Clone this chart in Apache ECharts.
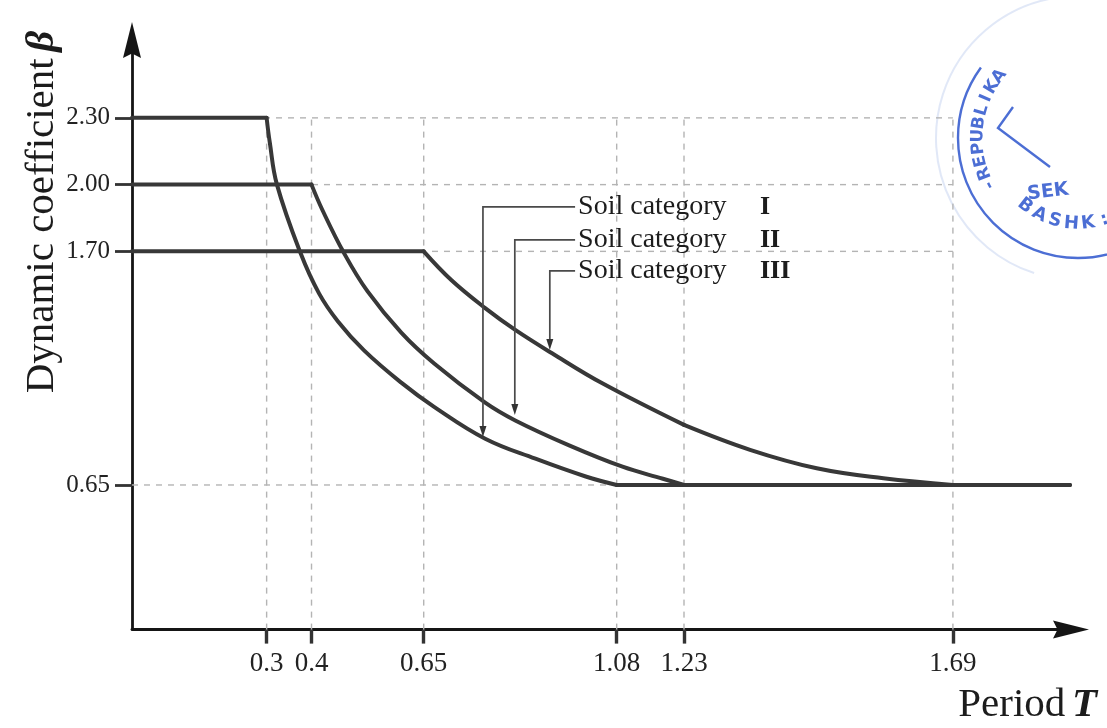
<!DOCTYPE html>
<html>
<head>
<meta charset="utf-8">
<script src="https://cdn.jsdelivr.net/npm/echarts@6.0.0/dist/echarts.min.js"></script>
<style>
html,body{margin:0;padding:0;background:#ffffff;}
#c{width:1107px;height:728px;}
</style>
</head>
<body>
<div id="c"></div>
<script>
// ---------------- data ----------------
const xTicks = [0.3, 0.4, 0.65, 1.08, 1.23, 1.69];
const xTickLabels = ['0.3', '0.4', '0.65', '1.08', '1.23', '1.69'];
const yTicks = [0.65, 1.70, 2.00, 2.30];
const yTickLabels = ['0.65', '1.70', '2.00', '2.30'];

const categories = ['Soil category', 'Soil category', 'Soil category'];
const numerals = ['I', 'II', 'III'];
const plateauLevel = [2.30, 2.00, 1.70];
const floorLevel = 0.65;
const lastPeriod = 1.89;

// decaying branch of each curve: [T, beta]
const decayI = [[0.30, 2.30], [0.307, 2.19], [0.323, 2.00], [0.376, 1.69], [0.417, 1.51],
  [0.459, 1.385], [0.517, 1.255], [0.60, 1.11], [0.674, 1.00], [0.787, 0.858], [0.899, 0.768],
  [1.011, 0.688], [1.08, 0.65]];
const decayII = [[0.40, 2.00], [0.424, 1.887], [0.473, 1.69], [0.525, 1.52], [0.60, 1.335],
  [0.674, 1.195], [0.787, 1.02], [0.854, 0.94], [0.974, 0.828], [1.093, 0.732], [1.183, 0.678], [1.23, 0.65]];
const decayIII = [[0.65, 1.70], [0.712, 1.57], [0.787, 1.445], [0.854, 1.347], [0.936, 1.242],
  [1.048, 1.107], [1.23, 0.92], [1.343, 0.808], [1.457, 0.725], [1.571, 0.68], [1.69, 0.65]];

// annotation anchors (data coordinates)
const labelPeriod = 0.994;
const labelLevel = [1.900, 1.752, 1.612];
const numeralPeriod = 1.36;
const arrowPeriod = [0.782, 0.853, 0.931];
const arrowLevel = [0.866, 0.965, 1.257];

// ---------------- layout ----------------
// the printed period axis is drawn at two different scales: left of 1.23 and right of it
const scaleBreak = 1.23;
const rightAxisMax = 1.892;
const betaMax = 2.65;

const chart = echarts.init(document.getElementById('c'), null, {renderer: 'canvas'});
const decays = [decayI, decayII, decayIII];
const curveColor = '#383838';
const gridColor = '#b4b4b4';
const serif = '"Liberation Serif", "DejaVu Serif", serif';
const gridRight = Math.max.apply(null, xTicks);
const gridTop = Math.max.apply(null, yTicks);

function lookup(ticks, labels, v) {
  let best = 0;
  ticks.forEach((t, i) => { if (Math.abs(t - v) < Math.abs(ticks[best] - v)) best = i; });
  return labels[best];
}

const series = [];
// put a polyline on the left and/or right period scale
function addLine(points, opts) {
  const b = scaleBreak;
  let left = points.filter(p => p[0] <= b);
  let right = points.filter(p => p[0] >= b);
  const hasB = points.some(p => p[0] === b);
  if (left.length && right.length && !hasB) {
    const p0 = left[left.length - 1], p1 = right[0];
    const bridge = [b, p0[1] + (p1[1] - p0[1]) * (b - p0[0]) / (p1[0] - p0[0])];
    left = left.concat([bridge]);
    right = [bridge].concat(right);
  }
  if (left.length >= 2) series.push(Object.assign({}, opts, {xAxisIndex: 0, yAxisIndex: 0, data: left}));
  if (right.length >= 2 && right.some(p => p[0] > b))
    series.push(Object.assign({}, opts, {xAxisIndex: 1, yAxisIndex: 1, data: right}));
}

const dashed = {type: 'line', symbol: 'none', silent: true, z: 1,
  lineStyle: {color: gridColor, width: 1.4, type: [6, 6]}};
yTicks.forEach(y => addLine([[0, y], [gridRight, y]], dashed));
xTicks.forEach(x => addLine([[x, 0], [x, gridTop]], dashed));

const solid = {color: curveColor, width: 4, cap: 'round', join: 'round'};
decays.forEach((d, k) => {
  const nm = categories[k] + ' ' + numerals[k];
  addLine([[0, plateauLevel[k]], d[0]], {type: 'line', name: nm, symbol: 'none', z: 3, lineStyle: solid});
  addLine(d, {type: 'line', name: nm, symbol: 'none', z: 3, smooth: 0.4, lineStyle: solid});
  addLine([d[d.length - 1], [lastPeriod, floorLevel]], {type: 'line', name: nm, symbol: 'none', z: 3, lineStyle: solid});
});

const leftTicks = xTicks.filter(t => t <= scaleBreak);
const rightTicks = xTicks.filter(t => t > scaleBreak);
const axisLineStyle = {color: '#151515', width: 2.8};
const arrowPath = 'path://M0,0 L10,40 L0,35 L-10,40 Z';
const xLabel = {margin: 21, fontSize: 27, fontFamily: serif, color: '#222',
  formatter: v => lookup(xTicks, xTickLabels, v)};
const xTick = {show: true, length: 14, inside: false, lineStyle: {color: '#333', width: 3.4}};

chart.setOption({
  animation: false,
  backgroundColor: '#ffffff',
  grid: [
    {left: 132, top: 40, width: 552, height: 589.6, outerBoundsMode: 'none'},
    {left: 684, top: 40, width: 387, height: 589.6, outerBoundsMode: 'none'}
  ],
  xAxis: [
    {gridIndex: 0, type: 'value', min: 0, max: scaleBreak,
      axisLine: {show: true, onZero: false, lineStyle: axisLineStyle},
      axisTick: Object.assign({customValues: leftTicks}, xTick),
      axisLabel: Object.assign({customValues: leftTicks}, xLabel),
      splitLine: {show: false}},
    {gridIndex: 1, type: 'value', min: scaleBreak, max: rightAxisMax,
      axisLine: {show: true, onZero: false, symbol: ['none', arrowPath], symbolSize: [18, 36],
        lineStyle: axisLineStyle},
      axisTick: Object.assign({customValues: rightTicks}, xTick),
      axisLabel: Object.assign({customValues: rightTicks}, xLabel),
      splitLine: {show: false}}
  ],
  yAxis: [
    {gridIndex: 0, type: 'value', min: 0, max: betaMax,
      axisLine: {show: true, onZero: false, symbol: ['none', arrowPath], symbolSize: [18, 36],
        lineStyle: axisLineStyle},
      axisTick: {show: true, customValues: yTicks, length: 17, inside: false,
        lineStyle: {color: '#333', width: 2.8}},
      axisLabel: {customValues: yTicks, margin: 22, fontSize: 25, fontFamily: serif, color: '#222',
        formatter: v => lookup(yTicks, yTickLabels, v)},
      splitLine: {show: false}},
    {gridIndex: 1, type: 'value', min: 0, max: betaMax, show: false}
  ],
  series: series
});

// ---------------- annotations ----------------
const px = (p, g) => chart.convertToPixel({gridIndex: g || 0}, p);
const graphics = [];
for (let k = 0; k < 3; k++) {
  const t = px([labelPeriod, labelLevel[k]]);
  const a = px([arrowPeriod[k], arrowLevel[k]]);
  const n = px([numeralPeriod, labelLevel[k]], 1);
  graphics.push({type: 'polyline', z: 10, silent: true,
    shape: {points: [[t[0] - 3, t[1]], [a[0], t[1]], [a[0], a[1] - 9]]},
    style: {stroke: '#4a4a4a', lineWidth: 1.7, fill: null}});
  graphics.push({type: 'polygon', z: 10, silent: true,
    shape: {points: [[a[0] - 3.5, a[1] - 11], [a[0] + 3.5, a[1] - 11], [a[0], a[1]]]},
    style: {fill: '#333'}});
  graphics.push({type: 'text', z: 10, silent: true, x: t[0], y: t[1],
    style: {text: categories[k], font: '28px ' + serif, fill: '#1c1c1c',
      align: 'left', verticalAlign: 'middle', textAlign: 'left', textVerticalAlign: 'middle'}});
  graphics.push({type: 'text', z: 10, silent: true, x: n[0], y: t[1],
    style: {text: numerals[k], font: 'bold 26px ' + serif, fill: '#1c1c1c',
      align: 'left', verticalAlign: 'middle', textAlign: 'left', textVerticalAlign: 'middle'}});
}

// axis titles
graphics.push({type: 'text', silent: true, x: 42, y: 212, rotation: Math.PI / 2,
  style: {text: '{a|Dynamic coefficient}  {b|β}', align: 'center', verticalAlign: 'middle',
    textAlign: 'center', textVerticalAlign: 'middle',
    rich: {a: {font: '41px ' + serif, fill: '#1c1c1c'},
           b: {font: 'italic bold 41px ' + serif, fill: '#1c1c1c'}}}});
graphics.push({type: 'text', silent: true, x: 1097, y: 705,
  style: {text: '{a|Period}  {b|T}', align: 'right', verticalAlign: 'middle',
    textAlign: 'right', textVerticalAlign: 'middle',
    rich: {a: {font: '41px ' + serif, fill: '#1c1c1c'},
           b: {font: 'italic bold 41px ' + serif, fill: '#1c1c1c'}}}});

// scanned stamp (decoration)
const stamp = 'rgba(45,85,205,0.85)';
const scx = 1078, scy = 138;
graphics.push({type: 'arc', silent: true, z: 0,
  shape: {cx: scx, cy: scy, r: 120, startAngle: 0, endAngle: Math.PI * 1.2, clockwise: true},
  style: {stroke: stamp, lineWidth: 2.4, fill: null}});
graphics.push({type: 'arc', silent: true, z: 0,
  shape: {cx: scx, cy: scy, r: 142, startAngle: Math.PI * 0.6, endAngle: Math.PI * 1.45, clockwise: true},
  style: {stroke: 'rgba(120,150,220,0.22)', lineWidth: 2, fill: null}});
function arcText(str, r, a0, a1, outer, size) {
  const chars = str.split('');
  chars.forEach((ch, i) => {
    const th = (a0 + (a1 - a0) * i / (chars.length - 1)) * Math.PI / 180;
    const x = scx + r * Math.cos(th), y = scy + r * Math.sin(th);
    const rot = outer ? -(th + Math.PI / 2) : -(th - Math.PI / 2);
    graphics.push({type: 'text', silent: true, z: 0, x: x, y: y, rotation: rot,
      style: {text: ch, font: 'bold ' + size + 'px "DejaVu Sans", sans-serif', fill: stamp,
        align: 'center', verticalAlign: 'middle', textAlign: 'center', textVerticalAlign: 'middle'}});
  });
}
arcText('-REPUBLIKA', 100, 152, 218, true, 17);
arcText('BASHK:', 86, 128, 72, false, 18);
graphics.push({type: 'text', silent: true, z: 0, x: 1048, y: 192, rotation: 0.12,
  style: {text: 'SEK', font: 'bold 19px "DejaVu Sans", sans-serif', fill: stamp,
    align: 'center', verticalAlign: 'middle', textAlign: 'center', textVerticalAlign: 'middle'}});
graphics.push({type: 'polyline', silent: true, z: 0,
  shape: {points: [[1013, 107], [998, 128], [1050, 167]]},
  style: {stroke: stamp, lineWidth: 2.4, fill: null}});

chart.setOption({graphic: graphics});
</script>
</body>
</html>
